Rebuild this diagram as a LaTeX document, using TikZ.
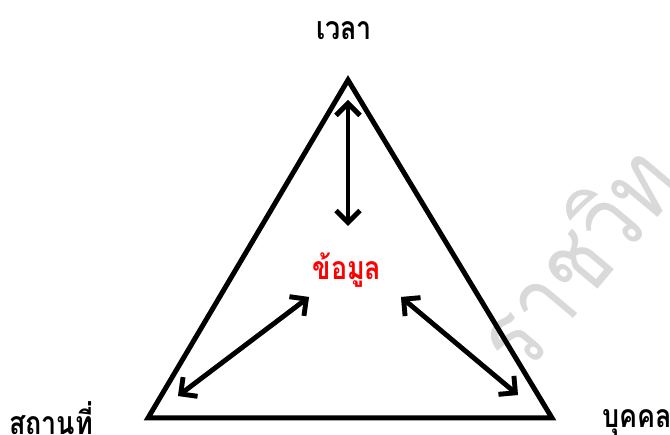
\documentclass[tikz,border=0pt]{standalone}
\usepackage{fontspec}
\newfontfamily\thaifont[Script=Thai]{Loma}
\usetikzlibrary{arrows.meta}
\newcommand{\narrow}[1]{\scalebox{0.84}[1]{#1}}
\tikzset{
  lbl/.style={font=\thaifont\bfseries\fontsize{32}{34}\selectfont, inner sep=0pt},
  dbl/.style={line width=4.8pt, {Straight Barb[length=12pt,width=24pt]}-{Straight Barb[length=12pt,width=24pt]}},
  shd/.style={dbl, draw=black!35, shift={(2.5pt,2.5pt)}},
  tri/.style={line width=5pt, miter limit=10, line join=miter},
}
\begin{document}
\begin{tikzpicture}[x=1pt,y=-1pt]
\useasboundingbox (0,0) rectangle (670,435);
% watermark
\node[text=black!15, rotate=50, font=\thaifont\fontsize{100}{100}\selectfont, inner sep=0pt] (wm) at (574,256) {\narrow{ราชวิท}};
% triangle
\coordinate (A) at (348,80);
\coordinate (B) at (148,418);
\coordinate (C) at (552,418);
\draw[tri] (A) -- (B) -- (C) -- cycle;
% labels
\node[lbl, anchor=base] (time) at (344,40) {\narrow{เวลา}};
\node[lbl, anchor=base west] (place) at (9,435) {\narrow{สถานที่}};
\node[lbl, anchor=base west] (person) at (602,428) {\narrow{บุคคล}};
\node[lbl, text=red, anchor=base] (data) at (347,280) {\narrow{ข้อมูล}};
% arrow ends
\coordinate (t1) at (348,100);
\coordinate (t2) at (348,226);
\coordinate (l1) at (178,396);
\coordinate (l2) at (309,297);
\coordinate (r1) at (401,297);
\coordinate (r2) at (518,395);
% shadows
\draw[shd] (t1) -- (t2);
\draw[shd] (l1) -- (l2);
\draw[shd] (r1) -- (r2);
% arrows
\draw[dbl] (t1) -- (t2);
\draw[dbl] (l1) -- (l2);
\draw[dbl] (r1) -- (r2);
\end{tikzpicture}
\end{document}
